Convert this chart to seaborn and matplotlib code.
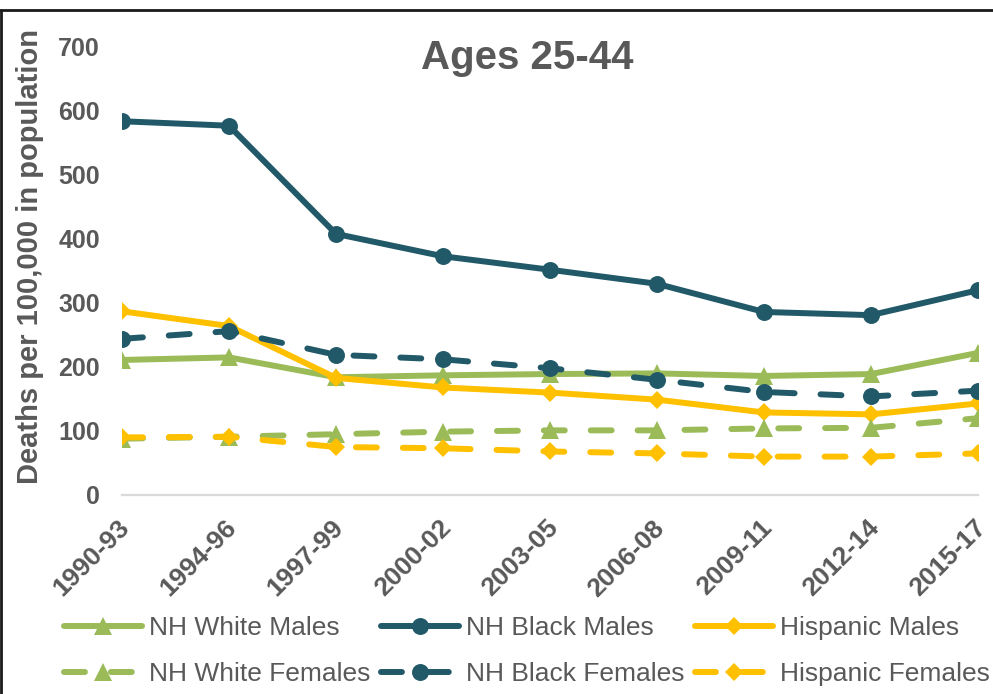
import matplotlib
matplotlib.use("Agg")
import matplotlib.pyplot as plt
import matplotlib.lines as mlines
from matplotlib.transforms import ScaledTranslation
import seaborn as sns

# Three-year periods on the category axis
periods = ["1990-93", "1994-96", "1997-99", "2000-02", "2003-05",
           "2006-08", "2009-11", "2012-14", "2015-17"]

# Deaths per 100,000 in population, ages 25-44
nh_white_males = [211, 215, 184, 187, 189, 190, 186, 189, 222]
nh_black_males = [584, 577, 408, 373, 352, 330, 286, 281, 320]
hispanic_males = [287, 264, 183, 168, 160, 149, 129, 126, 143]
nh_white_females = [88, 91, 95, 99, 101, 101, 104, 105, 120]
nh_black_females = [244, 256, 219, 212, 198, 180, 161, 154, 163]
hispanic_females = [90, 91, 75, 73, 68, 65, 60, 60, 65]

series_names = ["NH White Males", "NH Black Males", "Hispanic Males",
                "NH White Females", "NH Black Females", "Hispanic Females"]
series_values = [nh_white_males, nh_black_males, hispanic_males,
                 nh_white_females, nh_black_females, hispanic_females]

GREEN = "#9BBB59"
TEAL = "#215968"
GOLD = "#FFC000"
TEXT = "#595959"

colors = [GREEN, TEAL, GOLD, GREEN, TEAL, GOLD]
markers = ["^", "o", "D", "^", "o", "D"]
msizes = [12.5, 12.2, 9.2, 12.5, 12.2, 9.2]
dashed = [False, False, False, True, True, True]

sns.set_theme(style="white")
plt.rcParams["font.family"] = ["Liberation Sans", "DejaVu Sans"]

W, H = 993, 694
fig = plt.figure(figsize=(W / 100, H / 100), dpi=100)
fig.patch.set_facecolor("white")
ax = fig.add_axes([122 / W, 1 - 495 / H, (978 - 122) / W, (495 - 47) / H])

LW = 4.3
for name, vals, c, m, ms, d in zip(series_names, series_values, colors,
                                   markers, msizes, dashed):
    ls = (0, (3.5, 4.35)) if d else "-"
    sns.lineplot(x=periods, y=vals, ax=ax, color=c, marker=m, markersize=ms,
                 markeredgewidth=0, linewidth=LW, linestyle=ls,
                 dash_capstyle="round", solid_capstyle="round",
                 label=name, sort=False, errorbar=None)

ax.set_xlim(0, len(periods) - 1)
ax.set_ylim(0, 700)
ax.set_yticks(range(0, 701, 100))
ax.set_xlabel("")
ax.set_ylabel("")
ax.grid(False)
for side in ["top", "right", "left"]:
    ax.spines[side].set_visible(False)
ax.spines["bottom"].set_color("#D9D9D9")
ax.spines["bottom"].set_linewidth(1.6)
ax.spines["bottom"].set_zorder(0.5)

ax.tick_params(axis="y", length=0, pad=16, labelsize=18, labelcolor=TEXT)
ax.tick_params(axis="x", length=0, pad=21, labelsize=19, labelcolor=TEXT)
for lbl in ax.get_yticklabels():
    lbl.set_fontweight("bold")
shift = ScaledTranslation(4 / 100, 0, fig.dpi_scale_trans)
for lbl in ax.get_xticklabels():
    lbl.set_fontweight("bold")
    lbl.set_rotation(45)
    lbl.set_ha("right")
    lbl.set_va("center")
    lbl.set_rotation_mode("anchor")
    lbl.set_transform(lbl.get_transform() + shift)

# Legend: males on the first row, females on the second
handles, labels = ax.get_legend_handles_labels()
ax.get_legend().remove()
order = [0, 3, 1, 4, 2, 5]
fig.legend([handles[i] for i in order], [labels[i] for i in order],
           loc="center", bbox_to_anchor=(527 / W, 1 - 651 / H), ncol=3,
           frameon=False, fontsize=19, handlelength=2.95, handletextpad=0.25,
           columnspacing=0.42, labelspacing=0.82, borderpad=0,
           labelcolor=TEXT)

fig.text(527 / W, 1 - 69 / H, "Ages 25-44", ha="center", va="baseline",
         fontsize=29, fontweight="bold", color=TEXT)
fig.text(30 / W, 1 - 257 / H, "Deaths per 100,000 in population",
         rotation=90, ha="center", va="center", fontsize=21,
         fontweight="bold", color=TEXT)

# Frame edges along the top and left of the chart
fig.add_artist(mlines.Line2D([0, 1], [1 - 9.5 / H, 1 - 9.5 / H],
                             transform=fig.transFigure, color="#1a1a1a", lw=2))
fig.add_artist(mlines.Line2D([1.3 / W, 1.3 / W], [0, 1 - 9.5 / H],
                             transform=fig.transFigure, color="#1a1a1a", lw=2))

fig.savefig("out.png", dpi=100)
